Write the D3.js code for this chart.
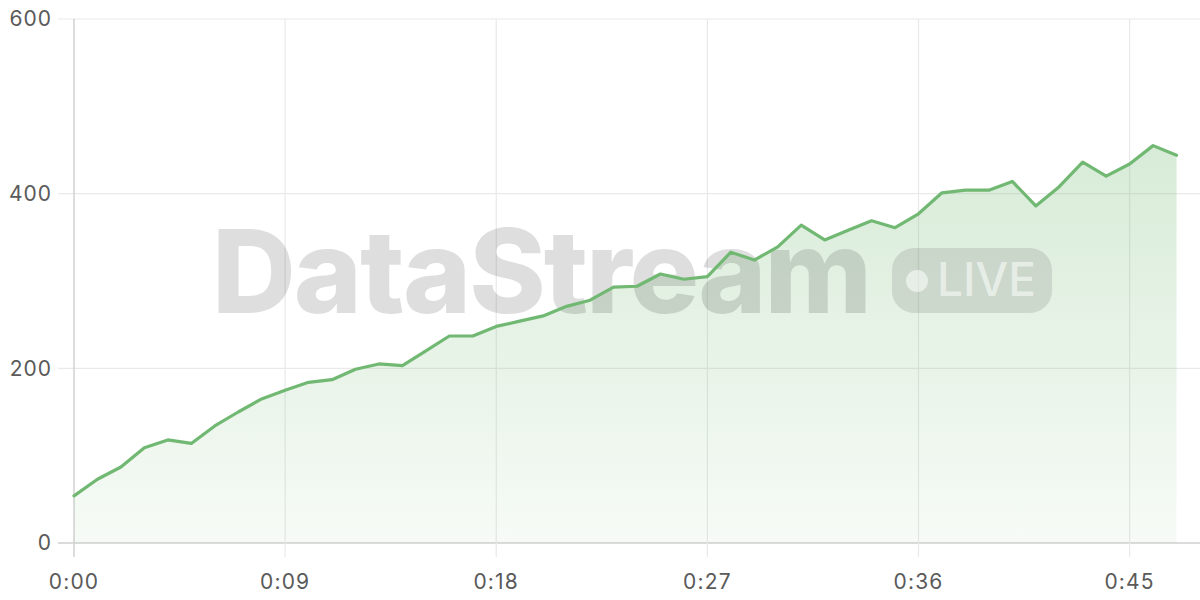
<!DOCTYPE html>
<html>
<head>
<meta charset="utf-8">
<script src="https://cdn.jsdelivr.net/npm/d3@7"></script>
<style>
  html, body { margin: 0; padding: 0; background: #fff; }
  svg { display: block; font-family: Inter, "Noto Sans", sans-serif; }
</style>
</head>
<body>
<div id="chart"></div>
<script>
// seconds since start
const seconds = d3.range(0, 48);
const values = [
  54, 73, 87, 109, 118, 114, 134, 150, 165, 175,
  184, 187, 199, 205, 203, 220, 237, 237, 248, 254,
  260, 271, 278, 293, 294, 308, 302, 305, 333, 324,
  339, 364, 347, 358, 369, 361, 377, 401, 404, 404,
  414, 386, 408, 436, 420, 434, 455, 444
];
const xTicks = [0, 9, 18, 27, 36, 45];
const yTicks = [0, 200, 400, 600];

const W = 1200, H = 600;
const margin = { top: 19, right: 0, bottom: 57, left: 74 };
const iw = W - margin.left - margin.right;
const ih = H - margin.top - margin.bottom;

const data = seconds.map((s, i) => ({ s, v: values[i] }));

const x = d3.scaleLinear().domain([0, 48]).range([0, iw]);
const y = d3.scaleLinear().domain([0, 600]).range([ih, 0]);

const fmt = s => Math.floor(s / 60) + ':' + String(s % 60).padStart(2, '0');

const svg = d3.select('#chart').append('svg').attr('width', W).attr('height', H);

const defs = svg.append('defs');
const grad = defs.append('linearGradient')
  .attr('id', 'fillGrad').attr('x1', 0).attr('y1', 0).attr('x2', 0).attr('y2', 1);
grad.append('stop').attr('offset', '0%').attr('stop-color', '#72b872').attr('stop-opacity', 0.28);
grad.append('stop').attr('offset', '100%').attr('stop-color', '#72b872').attr('stop-opacity', 0.06);

const g = svg.append('g').attr('transform', `translate(${margin.left},${margin.top})`);

// Grid lines (extend a bit past the plot like tick marks)
g.append('g').selectAll('line').data(yTicks).join('line')
  .attr('x1', -16).attr('x2', iw)
  .attr('y1', d => y(d)).attr('y2', d => y(d))
  .attr('stroke', d => d === 0 ? '#cfcfcf' : '#e9e9e9')
  .attr('stroke-width', d => d === 0 ? 1.5 : 1.2);

g.append('g').selectAll('line').data(xTicks).join('line')
  .attr('x1', d => x(d)).attr('x2', d => x(d))
  .attr('y1', 0).attr('y2', ih + 14)
  .attr('stroke', d => d === 0 ? '#d2d2d2' : '#e9e9e9')
  .attr('stroke-width', d => d === 0 ? 1.5 : 1.2);

// Area + line
const area = d3.area().x(d => x(d.s)).y0(y(0)).y1(d => y(d.v));
const line = d3.line().x(d => x(d.s)).y(d => y(d.v));

g.append('path').datum(data).attr('d', area).attr('fill', 'url(#fillGrad)');

// Watermark
const wm = g.append('g').attr('pointer-events', 'none');
wm.append('text')
  .attr('x', 212 - margin.left).attr('y', 313 - margin.top)
  .attr('font-size', 116).attr('font-weight', 800)
  .attr('letter-spacing', -2)
  .attr('fill', 'rgba(0,0,0,0.13)')
  .text('DataStream');
wm.append('rect')
  .attr('x', 892 - margin.left).attr('y', 248 - margin.top)
  .attr('width', 160).attr('height', 65).attr('rx', 22)
  .attr('fill', 'rgba(0,0,0,0.10)');
wm.append('circle')
  .attr('cx', 917 - margin.left).attr('cy', 281 - margin.top).attr('r', 11)
  .attr('fill', 'rgba(255,255,255,0.55)');
wm.append('text')
  .attr('x', 937 - margin.left).attr('y', 296 - margin.top)
  .attr('font-size', 46).attr('font-weight', 500)
  .attr('fill', 'rgba(255,255,255,0.55)')
  .text('LIVE');

g.append('path').datum(data).attr('d', line)
  .attr('fill', 'none').attr('stroke', '#71b873').attr('stroke-width', 3.2)
  .attr('stroke-linejoin', 'round').attr('stroke-linecap', 'round');

// Tick labels
g.append('g').selectAll('text').data(yTicks).join('text')
  .attr('x', -22).attr('y', d => y(d)).attr('dy', '0.35em')
  .attr('text-anchor', 'end').attr('font-size', 21).attr('letter-spacing', 1)
  .attr('fill', '#5a5a5a')
  .text(d => d);

g.append('g').selectAll('text').data(xTicks).join('text')
  .attr('x', d => x(d)).attr('y', ih + 46)
  .attr('text-anchor', 'middle').attr('font-size', 21).attr('letter-spacing', 1.2)
  .attr('fill', '#5a5a5a')
  .text(fmt);
</script>
</body>
</html>
